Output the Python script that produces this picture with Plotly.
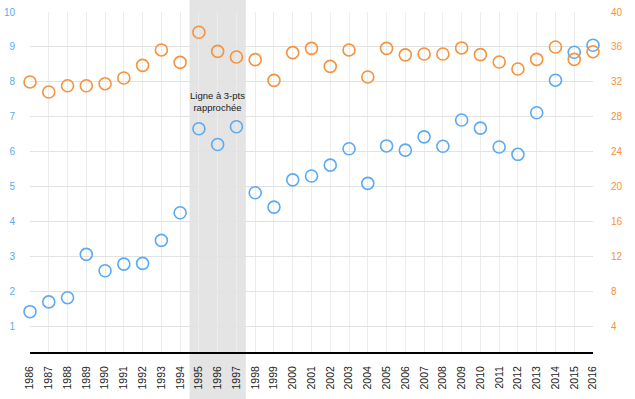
import plotly.graph_objects as go

years = list(range(1986, 2017))
blue_vals = [1.43, 1.71, 1.83, 3.07, 2.60, 2.79, 2.81, 3.47, 4.26, 6.66,
             6.21, 6.72, 4.83, 4.42, 5.20, 5.31, 5.62, 6.09, 5.10, 6.17,
             6.05, 6.43, 6.16, 6.91, 6.68, 6.14, 5.93, 7.12, 8.05, 8.85, 9.05]
orange_vals = [32.0, 30.85, 31.57, 31.57, 31.8, 32.45, 33.9, 35.66, 34.24, 37.68,
               35.5, 34.85, 34.55, 32.18, 35.35, 35.84, 33.78, 35.66, 32.57, 35.84,
               35.1, 35.2, 35.2, 35.89, 35.12, 34.28, 33.48, 34.58, 36.0, 34.58, 35.46]
left_ticks = [1, 2, 3, 4, 5, 6, 7, 8, 9, 10]
right_ticks = [4, 8, 12, 16, 20, 24, 28, 32, 36, 40]
band_start, band_end = 1994.5, 1997.5
annotation_text = "Ligne à 3-pts<br>rapprochée"

BLUE = "#5aaaf2"
ORANGE = "#f7923a"
FONT = "Liberation Sans, Arial, sans-serif"

fig = go.Figure()
fig.add_trace(go.Scatter(
    x=years, y=blue_vals, mode="markers", yaxis="y",
    marker=dict(symbol="circle-open", size=12, color=BLUE, line=dict(width=1.6, color=BLUE)),
    cliponaxis=False, showlegend=False, hoverinfo="x+y"))
fig.add_trace(go.Scatter(
    x=years, y=orange_vals, mode="markers", yaxis="y2",
    marker=dict(symbol="circle-open", size=12, color=ORANGE, line=dict(width=1.6, color=ORANGE)),
    cliponaxis=False, showlegend=False, hoverinfo="x+y"))

fig.add_shape(type="rect", xref="x", yref="paper", x0=band_start, x1=band_end,
              y0=-0.2, y1=1.1, fillcolor="#e4e4e4", line=dict(width=0), layer="below")

fig.add_annotation(x=(band_start + band_end) / 2, y=7.43, xref="x", yref="y",
                   text=annotation_text, showarrow=False,
                   font=dict(family=FONT, size=9.5, color="#222"), align="center")

fig.update_layout(
    width=635, height=399,
    margin=dict(l=30, r=42, t=12, b=47, autoexpand=False),
    paper_bgcolor="white", plot_bgcolor="white",
    font=dict(family=FONT),
    xaxis=dict(range=[1986, 2016], tickmode="array", tickvals=years,
               ticktext=[str(y) for y in years], tickangle=-90,
               tickfont=dict(size=10.5, color="#222"),
               showgrid=True, gridcolor="#ececec", gridwidth=1,
               showline=True, linecolor="black", linewidth=2,
               ticks="outside", ticklen=8, tickcolor="rgba(0,0,0,0)",
               zeroline=False, automargin=False),
    yaxis=dict(range=[0.277, 10], tickmode="array", tickvals=left_ticks,
               tickfont=dict(size=10, color=BLUE),
               showgrid=True, gridcolor="#e2e2e2", gridwidth=1,
               zeroline=False, showline=False, ticks="outside",
               ticklen=12, tickcolor="rgba(0,0,0,0)", automargin=False),
    yaxis2=dict(range=[1.108, 40], tickmode="array", tickvals=right_ticks,
                overlaying="y", side="right",
                tickfont=dict(size=10, color=ORANGE),
                showgrid=False, zeroline=False, showline=False,
                ticks="outside", ticklen=15, tickcolor="rgba(0,0,0,0)",
                automargin=False),
)

fig.write_html("out.html", config={"displayModeBar": False},
               post_script="document.body.style.margin='0';")
